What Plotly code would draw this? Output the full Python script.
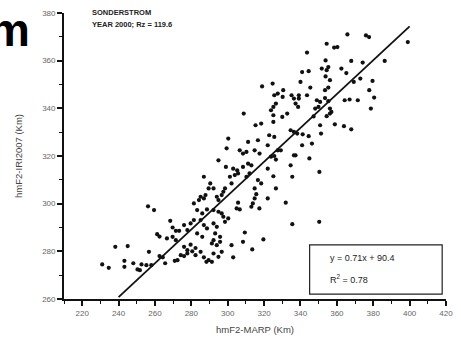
import plotly.graph_objects as go

# Scatter data: hmF2-MARP (x) vs hmF2-IRI2007 (y), km
marp = [
    365.8, 376.0, 377.7, 399.0, 354.4, 358.5, 360.3, 343.6, 353.8, 367.9,
    374.2, 386.3, 351.7, 354.4, 355.3, 340.9, 344.5, 362.5, 365.2, 372.9,
    379.6, 340.0, 353.8, 356.2, 369.3, 345.4, 353.5, 355.3, 377.8, 343.6,
    339.1, 339.1, 353.5, 355.3, 349.0, 350.8, 364.3, 367.0, 371.5, 380.5,
    338.7, 348.1, 349.9, 356.2, 357.0, 378.7, 354.4, 356.2, 347.2, 358.9,
    363.9, 367.9, 350.8, 338.2, 341.2, 344.5, 351.3, 340.9, 346.3, 337.3,
    344.9, 350.4, 350.3,
    318.9, 324.7, 325.6, 327.5, 330.5, 326.5, 325.1, 335.1, 336.4, 337.3,
    330.0, 332.7, 325.1, 325.1, 308.8, 315.3, 318.4, 336.4, 334.6, 322.8,
    325.6, 300.3, 311.2, 316.6, 299.4, 306.6, 308.4, 310.3, 314.8, 317.5,
    322.0, 327.5, 329.2, 323.8, 325.6, 336.4, 294.9, 311.2, 313.0, 322.0,
    326.5, 334.6, 299.0, 303.0, 305.2, 308.4, 305.7, 303.9, 312.0, 310.3,
    286.9, 301.2, 302.1, 325.1, 335.5, 290.4, 292.2, 289.5, 298.5, 297.6,
    296.7, 316.6, 318.4, 326.5, 284.2, 285.1, 286.9, 287.8, 294.0, 294.9,
    305.7, 314.8, 315.7, 314.8, 322.0, 331.9, 283.2, 286.0, 288.6, 292.2,
    294.9, 296.7, 304.9, 306.6, 313.0, 313.8, 317.4, 297.6, 298.5, 300.3,
    285.1, 286.9, 288.6, 292.2, 294.0, 309.4, 335.5, 293.1, 295.8, 283.2,
    286.0, 330.2, 323.8,
    256.2, 259.5, 281.4, 268.4, 269.7, 271.5, 273.3, 261.2, 262.5, 266.6,
    269.7, 271.5, 276.0, 277.8, 279.6, 281.4, 276.0, 277.8, 279.6, 280.5,
    282.3, 238.2, 245.0, 256.7, 231.0, 234.6, 243.2, 243.2, 248.1, 252.6,
    250.4, 251.7, 255.3, 258.0, 262.5, 264.3, 265.6, 270.9, 272.4, 274.2,
    277.8, 276.0, 286.9, 288.3, 285.1, 291.3, 292.2, 294.0, 295.8, 292.2,
    294.9, 296.7, 289.5, 291.3, 303.0, 302.1, 308.4, 313.5, 319.6, 282.3,
]
iri = [
    371.0, 370.6, 369.9, 367.8, 367.1, 365.5, 365.7, 363.4, 360.1, 359.9,
    359.2, 359.9, 356.7, 356.0, 357.3, 355.2, 355.6, 356.7, 354.8, 352.5,
    351.5, 351.1, 353.4, 351.8, 351.1, 348.7, 347.6, 348.7, 347.6, 345.5,
    345.5, 344.1, 344.3, 343.0, 343.4, 342.7, 343.4, 343.7, 343.4, 344.5,
    340.6, 339.9, 340.6, 339.9, 338.5, 339.9, 336.7, 337.8, 336.6, 333.3,
    332.5, 331.2, 332.9, 329.4, 329.1, 328.3, 329.4, 324.5, 325.2, 320.3,
    319.0, 313.3, 292.4,
    349.2, 350.4, 345.5, 346.2, 347.6, 342.0, 340.6, 345.5, 344.1, 342.0,
    336.4, 337.8, 337.1, 334.3, 337.8, 332.9, 333.6, 330.1, 330.8, 328.7,
    328.0, 327.3, 325.9, 326.6, 323.2, 322.4, 321.0, 321.7, 322.4, 321.0,
    324.5, 322.4, 322.4, 319.7, 320.0, 320.3, 318.2, 316.8, 316.1, 314.7,
    318.5, 316.1, 315.4, 314.7, 314.0, 315.4, 312.7, 312.0, 312.7, 311.3,
    311.3, 311.3, 308.5, 311.5, 311.3, 308.5, 306.4, 306.4, 306.4, 305.0,
    303.6, 309.9, 308.5, 306.4, 301.5, 302.9, 302.2, 303.6, 302.9, 301.5,
    300.4, 302.2, 304.0, 306.4, 302.2, 300.4, 297.3, 295.9, 297.6, 297.3,
    296.6, 295.9, 298.0, 297.6, 298.7, 300.1, 298.0, 294.5, 292.4, 293.8,
    293.1, 291.0, 289.6, 291.7, 290.3, 287.9, 291.4, 287.5, 286.1, 287.5,
    286.1, 344.8, 339.2,
    298.9, 297.3, 300.1, 292.8, 290.0, 288.6, 288.6, 287.2, 286.2, 285.4,
    286.1, 284.7, 291.0, 288.9, 291.7, 293.1, 281.9, 280.5, 282.8, 280.0,
    281.4, 281.9, 282.2, 279.8, 274.5, 273.1, 276.0, 273.5, 275.0, 274.5,
    272.4, 272.1, 274.2, 274.2, 278.0, 277.5, 275.0, 276.0, 276.3, 278.4,
    279.1, 278.0, 277.5, 275.6, 279.8, 283.3, 284.7, 282.6, 284.0, 279.1,
    277.7, 279.8, 276.3, 275.6, 277.5, 282.6, 284.0, 280.8, 285.0, 278.4,
]

# Regression line (stated in the chart)
slope = 0.71
intercept = 90.4
fit_x = [240, 400]
fit_y = [slope * v + intercept for v in fit_x]

x_ticks = [220, 240, 260, 280, 300, 320, 340, 360, 380, 400, 420]
y_ticks = [260, 280, 300, 320, 340, 360, 380]

fig = go.Figure()
fig.add_trace(go.Scatter(
    x=marp, y=iri, mode="markers",
    marker=dict(color="#111111", size=4.2, line=dict(width=0)),
    showlegend=False, hoverinfo="skip",
))
fig.add_trace(go.Scatter(
    x=fit_x, y=fit_y, mode="lines",
    line=dict(color="#111111", width=1.8),
    showlegend=False, hoverinfo="skip",
))

axis_font = dict(family="Arial, Liberation Sans, sans-serif", size=8, color="#666666")
fig.update_layout(
    width=461, height=345,
    margin=dict(l=64, r=8, t=13, b=46),
    paper_bgcolor="white", plot_bgcolor="white",
    font=dict(family="Arial, Liberation Sans, sans-serif"),
    xaxis=dict(
        range=[210, 420], tickvals=x_ticks, ticktext=[str(v) for v in x_ticks],
        showgrid=False, zeroline=False, showline=True, linecolor="#111111", linewidth=2,
        ticks="outside", ticklen=5, tickwidth=1.5, tickcolor="#111111",
        tickfont=axis_font,
        minor=dict(dtick=10, tick0=210, ticks="outside", ticklen=3, tickwidth=1, tickcolor="#111111"),
        title=dict(text="hmF2-MARP (Km)", font=dict(size=9.5, color="#444444"), standoff=10),
    ),
    yaxis=dict(
        range=[260, 380], tickvals=y_ticks, ticktext=[str(v) for v in y_ticks],
        showgrid=False, zeroline=False, showline=True, linecolor="#111111", linewidth=1.8,
        ticks="outside", ticklen=5, tickwidth=1.5, tickcolor="#111111",
        tickfont=axis_font,
        minor=dict(dtick=10, ticks="outside", ticklen=3, tickwidth=1, tickcolor="#111111"),
        title=dict(text="hmF2-IRI2007 (Km)", font=dict(size=9.5, color="#444444"), standoff=18),
    ),
)

fig.add_shape(type="rect", xref="paper", yref="paper",
              x0=0.643, x1=0.990, y0=0.017, y1=0.189,
              line=dict(color="#222222", width=1.2), fillcolor="white", layer="above")

fig.add_annotation(xref="paper", yref="paper", x=0.69, y=0.145, xanchor="left", yanchor="middle",
                   text="y = 0.71x + 90.4", showarrow=False,
                   font=dict(size=9, color="#222222"))
fig.add_annotation(xref="paper", yref="paper", x=0.69, y=0.07, xanchor="left", yanchor="middle",
                   text="R<sup>2</sup> = 0.78", showarrow=False,
                   font=dict(size=9, color="#222222"))

fig.add_annotation(xref="paper", yref="paper", x=0.069, y=1.003, xanchor="left", yanchor="middle",
                   text="<b>SONDERSTROM</b>", showarrow=False,
                   font=dict(size=7.5, color="#222222"))
fig.add_annotation(xref="paper", yref="paper", x=0.069, y=0.961, xanchor="left", yanchor="middle",
                   text="<b>YEAR 2000; Rz = 119.6</b>", showarrow=False,
                   font=dict(size=7.5, color="#222222"))

fig.add_annotation(xref="paper", yref="paper", x=-0.085, y=0.94, xanchor="right", yanchor="middle",
                   text="<b>m</b>", showarrow=False,
                   font=dict(size=46, color="#000000"))

fig.write_html("out.html")
